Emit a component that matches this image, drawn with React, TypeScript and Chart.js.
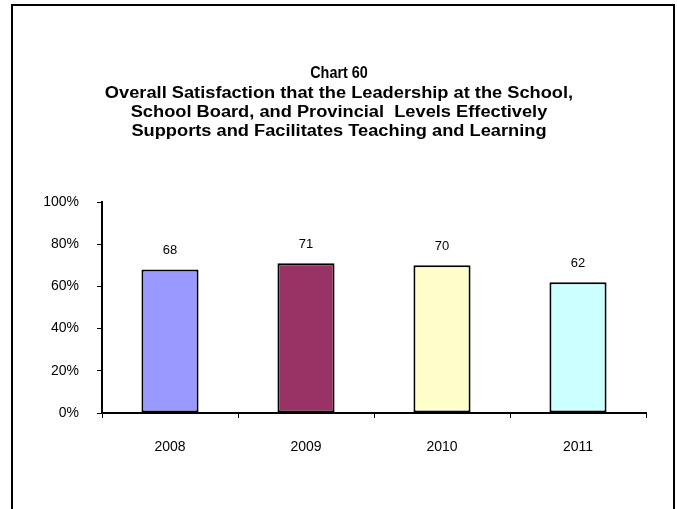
import React, { useEffect, useRef } from "react";
import { Chart, registerables } from "chart.js";

Chart.register(...registerables);

const categories = ["2008", "2009", "2010", "2011"];
const values = [68, 71, 70, 62];
const barColors = ["#9999FF", "#993366", "#FFFFCC", "#CCFFFF"];
const yTicks = [0, 20, 40, 60, 80, 100];
const titleLines = [
  "Chart 60",
  "Overall Satisfaction that the Leadership at the School,",
  "School Board, and Provincial  Levels Effectively",
  "Supports and Facilitates Teaching and Learning",
];

const FONT = "'Liberation Sans', Arial, sans-serif";

const framePlugin = {
  id: "frame",
  beforeDraw(chart: any) {
    const ctx = chart.ctx;
    ctx.save();
    ctx.fillStyle = "#fff";
    ctx.fillRect(0, 0, chart.width, chart.height);
    ctx.strokeStyle = "#000";
    ctx.lineWidth = 2;
    ctx.strokeRect(12, 5, 662, 520);
    ctx.restore();
  },
};

const titlePlugin = {
  id: "customTitle",
  afterDraw(chart: any) {
    const ctx = chart.ctx;
    ctx.save();
    ctx.fillStyle = "#000";
    ctx.font = `bold 16px ${FONT}`;
    ctx.textAlign = "center";
    ctx.textBaseline = "middle";
    const cx = 339;
    titleLines.forEach((line, i) => {
      ctx.save();
      ctx.translate(cx, 0);
      ctx.scale(i === 0 ? 0.9 : 1.14, 1);
      ctx.fillText(line, 0, 74 + i * 19.3);
      ctx.restore();
    });
    ctx.restore();
  },
};

const valueLabelPlugin = {
  id: "valueLabels",
  afterDatasetsDraw(chart: any) {
    const ctx = chart.ctx;
    const meta = chart.getDatasetMeta(0);
    ctx.save();
    ctx.fillStyle = "#000";
    ctx.font = `13px ${FONT}`;
    ctx.textAlign = "center";
    ctx.textBaseline = "middle";
    meta.data.forEach((bar: any, i: number) => {
      ctx.fillText(String(values[i]), bar.x, bar.y - 19);
    });
    ctx.restore();
  },
};

export default function App() {
  const canvasRef = useRef<HTMLCanvasElement>(null);

  useEffect(() => {
    document.body.style.margin = "0";
    const canvas = canvasRef.current;
    if (!canvas) return;
    const chart = new Chart(canvas, {
      type: "bar",
      data: {
        labels: categories,
        datasets: [
          {
            data: values,
            backgroundColor: barColors,
            borderColor: "#000",
            borderWidth: 2,
            borderSkipped: false,
            categoryPercentage: 1,
            barPercentage: 0.42,
          },
        ],
      },
      options: {
        responsive: false,
        animation: false,
        devicePixelRatio: 1,
        layout: { padding: { left: 12, right: 31, top: 202, bottom: 36 } },
        plugins: {
          legend: { display: false },
          title: { display: false },
          tooltip: { enabled: false },
        },
        scales: {
          x: {
            offset: true,
            afterFit(scale: any) {
              scale.height = 60;
            },
            grid: {
              offset: true,
              drawOnChartArea: false,
              drawTicks: true,
              tickLength: 5,
              color: "#000",
              lineWidth: 1,
            },
            border: { display: true, color: "#000", width: 2 },
            ticks: {
              color: "#000",
              font: { family: FONT, size: 14 },
              padding: 21,
            },
          },
          y: {
            min: 0,
            max: 100,
            afterFit(scale: any) {
              scale.width = 90;
            },
            afterBuildTicks(scale: any) {
              scale.ticks = yTicks.map((v) => ({ value: v }));
            },
            grid: {
              drawOnChartArea: false,
              drawTicks: true,
              tickLength: 5,
              color: "#000",
              lineWidth: 1,
            },
            border: { display: true, color: "#000", width: 2 },
            ticks: {
              color: "#000",
              font: { family: FONT, size: 14 },
              padding: 18,
              callback: (v: any) => `${v}%`,
            },
          },
        },
      },
      plugins: [framePlugin, titlePlugin, valueLabelPlugin],
    });
    return () => chart.destroy();
  }, []);

  return (
    <div style={{ width: 677, height: 509, position: "relative" }}>
      <canvas ref={canvasRef} width={677} height={509} style={{ display: "block" }} />
    </div>
  );
}
